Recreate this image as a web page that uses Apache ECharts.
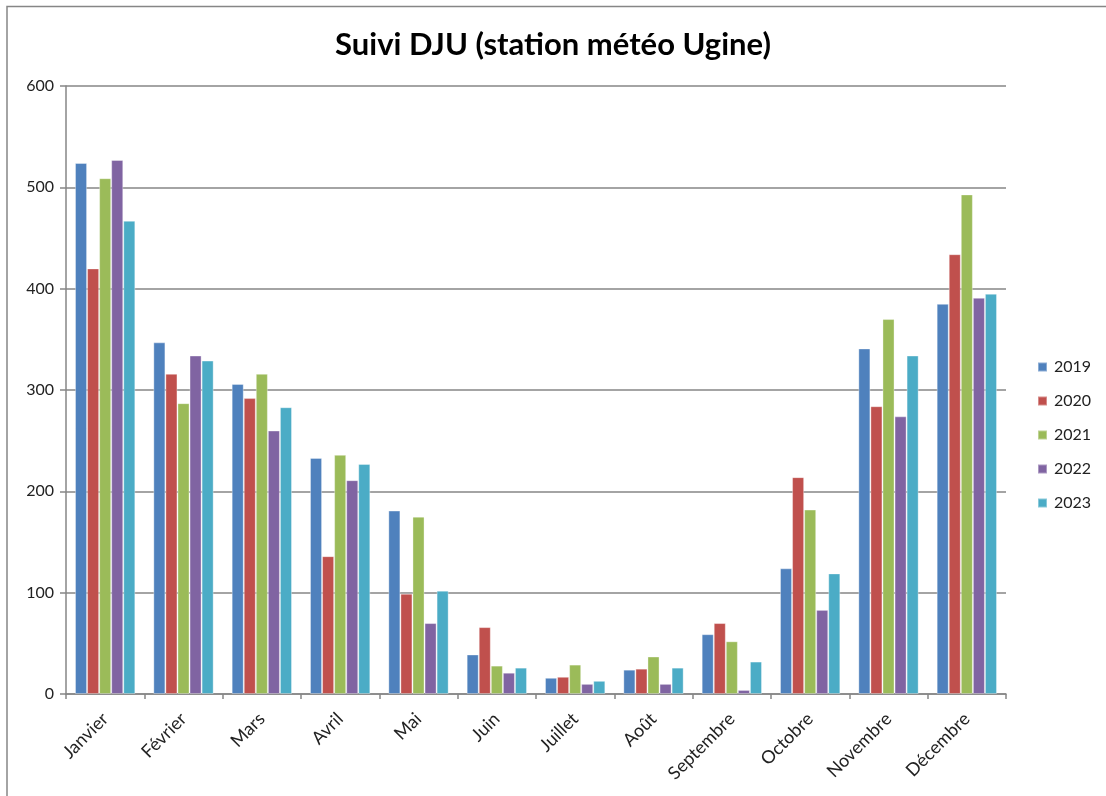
<!DOCTYPE html>
<html>
<head>
<meta charset="utf-8">
<script src="https://cdn.jsdelivr.net/npm/echarts@6/dist/echarts.min.js"></script>
<style>html,body{margin:0;padding:0;background:#fff}#c{width:1106px;height:796px}</style>
</head>
<body>
<div id="c"></div>
<script>
const months = ['Janvier','Février','Mars','Avril','Mai','Juin','Juillet','Août','Septembre','Octobre','Novembre','Décembre'];
const years = ['2019','2020','2021','2022','2023'];
const v2019 = [524, 347, 306, 233, 181, 39, 16, 24, 59, 124, 341, 385];
const v2020 = [420, 316, 292, 136, 99, 66, 17, 25, 70, 214, 284, 434];
const v2021 = [509, 287, 316, 236, 175, 28, 29, 37, 52, 182, 370, 493];
const v2022 = [527, 334, 260, 211, 70, 21, 10, 10, 4, 83, 274, 391];
const v2023 = [467, 329, 283, 227, 102, 26, 13, 26, 32, 119, 334, 395];
const yTicks = [0, 100, 200, 300, 400, 500, 600];
const colors = ['#4F81BD','#C0504D','#9BBB59','#8064A2','#4BACC6'];
const values = [v2019, v2020, v2021, v2022, v2023];

const font = 'Lato, "Open Sans", sans-serif';
const chart = echarts.init(document.getElementById('c'), null, {renderer:'canvas'});
chart.setOption({
  animation: false,
  color: colors,
  title: {
    text: 'Suivi DJU (station météo Ugine)',
    left: 'center', top: 24,
    textStyle: {fontFamily: font, fontWeight: 'bold', fontSize: 31, color: '#000'}
  },
  graphic: [{
    type: 'rect', shape: {x: 7, y: 6.5, width: 1110, height: 800},
    style: {fill: 'none', stroke: '#868686', lineWidth: 1.5}, silent: true
  }],
  legend: {
    orient: 'vertical', left: 1032, top: 354,
    itemWidth: 9, itemHeight: 9, itemGap: 18,
    icon: 'rect',
    textStyle: {fontFamily: font, fontSize: 16, color: '#222', padding: [0,0,0,2]},
    data: years
  },
  grid: {left: 66, right: 100, top: 86, bottom: 102, containLabel: false},
  xAxis: {
    type: 'category', data: months,
    axisLine: {lineStyle: {color: '#868686', width: 1.5}},
    axisTick: {show: true, alignWithLabel: false, length: 5, lineStyle: {color: '#868686', width: 1.5}},
    axisLabel: {rotate: 45, fontFamily: font, fontSize: 18, color: '#222', margin: 22, interval: 0}
  },
  yAxis: {
    type: 'value', min: yTicks[0], max: yTicks[yTicks.length-1], interval: 100,
    axisLine: {show: true, lineStyle: {color: '#868686', width: 1.5}},
    axisTick: {show: true, length: 6, lineStyle: {color: '#868686', width: 1.5}},
    splitLine: {lineStyle: {color: '#868686', width: 1.5}},
    axisLabel: {fontFamily: font, fontSize: 16, color: '#222', margin: 12}
  },
  series: years.map((y, i) => ({
    name: y, type: 'bar', data: values[i],
    barGap: '0%', barCategoryGap: '23%',
    itemStyle: {color: colors[i], borderColor: 'rgba(255,255,255,0.35)', borderWidth: 1}
  }))
});
</script>
</body>
</html>
